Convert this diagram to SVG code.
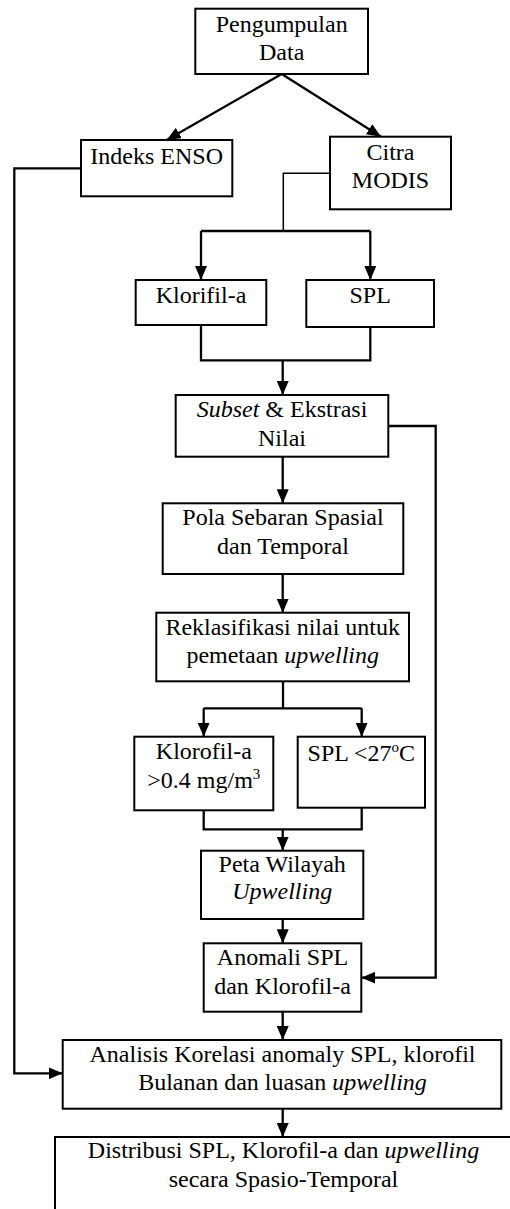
<svg xmlns="http://www.w3.org/2000/svg" width="510" height="1209" viewBox="0 0 510 1209">
<style>
.box{fill:#fff;stroke:#000;stroke-width:2}
text{font-family:'Liberation Serif','Times New Roman',serif;font-size:24px;fill:#000;text-anchor:middle}
.i{font-style:italic}
.c{fill:none;stroke:#000;stroke-width:2.3}
.thin{fill:none;stroke:#000;stroke-width:1.5}
</style>
<defs>
<marker id="ah" markerUnits="userSpaceOnUse" markerWidth="14" markerHeight="12" refX="14" refY="6" orient="auto">
<path d="M0,0 L14,6 L0,12 Z" fill="#000"/>
</marker>
</defs>
<rect width="510" height="1209" fill="#fff"/>
<g id="connectors">
<line class="c" x1="281.7" y1="74" x2="166.7" y2="140" marker-end="url(#ah)"/>
<line class="c" x1="281.7" y1="74" x2="381" y2="136.7" marker-end="url(#ah)"/>
<path class="c" d="M81,168.3 H14.3 V1073.3 H62.7" marker-end="url(#ah)"/>
<path class="thin" d="M330,173.3 H283.3 V231"/>
<path class="c" d="M201,231 H370.3"/>
<path class="c" d="M201,231 V280" marker-end="url(#ah)"/>
<path class="c" d="M370.3,231 V280" marker-end="url(#ah)"/>
<path class="c" d="M201,325 V360.3 H370.3 V327"/>
<path class="c" d="M282.7,360.3 V395" marker-end="url(#ah)"/>
<path class="c" d="M388.3,426 H435.7 V977.7 H361.3" marker-end="url(#ah)"/>
<path class="c" d="M282.7,456.7 V503.3" marker-end="url(#ah)"/>
<path class="c" d="M282.7,574 V612.7" marker-end="url(#ah)"/>
<path class="c" d="M283,681.3 V708.3"/>
<path class="c" d="M203.7,708.3 H361.7"/>
<path class="c" d="M203.7,708.3 V736.7" marker-end="url(#ah)"/>
<path class="c" d="M361.7,708.3 V736.7" marker-end="url(#ah)"/>
<path class="c" d="M203.7,810.3 V829.3 H361.7 V807.7"/>
<path class="c" d="M282.7,829.3 V850.7" marker-end="url(#ah)"/>
<path class="c" d="M282.7,919 V943.3" marker-end="url(#ah)"/>
<path class="c" d="M282.7,1011.7 V1040" marker-end="url(#ah)"/>
<path class="c" d="M282.7,1108.7 V1137" marker-end="url(#ah)"/>
</g>
<g id="pengumpulan">
<rect class="box" x="195.3" y="8.7" width="172.7" height="65.3"/>
<text x="281.7" y="31.7">Pengumpulan</text>
<text x="281.7" y="60">Data</text>
</g>
<g id="indeks-enso">
<rect class="box" x="81" y="140" width="151.3" height="56.3"/>
<text x="156.7" y="164">Indeks ENSO</text>
</g>
<g id="citra-modis">
<rect class="box" x="330" y="136.7" width="121" height="72.6"/>
<text x="390.5" y="160">Citra</text>
<text x="390.5" y="188">MODIS</text>
</g>
<g id="klorifil">
<rect class="box" x="135.7" y="280" width="130.6" height="45"/>
<text x="201" y="303.3">Klorifil-a</text>
</g>
<g id="spl">
<rect class="box" x="306.3" y="280" width="127.7" height="47"/>
<text x="370.2" y="303.3">SPL</text>
</g>
<g id="subset">
<rect class="box" x="175.7" y="395" width="212.6" height="61.7"/>
<text x="282" y="417.3"><tspan class="i">Subset</tspan> &amp; Ekstrasi</text>
<text x="282" y="445.7">Nilai</text>
</g>
<g id="pola">
<rect class="box" x="162.7" y="503.3" width="240.6" height="70.7"/>
<text x="283" y="525">Pola Sebaran Spasial</text>
<text x="283" y="554.3">dan Temporal</text>
</g>
<g id="reklasifikasi">
<rect class="box" x="156.3" y="612.7" width="252.7" height="68.6"/>
<text x="282.7" y="635">Reklasifikasi nilai untuk</text>
<text x="282.7" y="663.3">pemetaan <tspan class="i">upwelling</tspan></text>
</g>
<g id="klorofil-threshold">
<rect class="box" x="134.3" y="736.7" width="139" height="73.6"/>
<text x="203.8" y="759.3">Klorofil-a</text>
<text x="203.8" y="787.7">&gt;0.4 mg/m<tspan font-size="15" dy="-9">3</tspan></text>
</g>
<g id="spl-threshold">
<rect class="box" x="297.7" y="736.7" width="127.3" height="71"/>
<text x="361.3" y="761">SPL &lt;27<tspan font-size="15" dy="-9">o</tspan><tspan dy="9">C</tspan></text>
</g>
<g id="peta">
<rect class="box" x="201" y="850.7" width="162.3" height="68.3"/>
<text x="282.2" y="871.7">Peta Wilayah</text>
<text class="i" x="282.2" y="899">Upwelling</text>
</g>
<g id="anomali">
<rect class="box" x="203.7" y="943.3" width="157.6" height="68.4"/>
<text x="282.5" y="965">Anomali SPL</text>
<text x="282.5" y="994.3">dan Klorofil-a</text>
</g>
<g id="analisis">
<rect class="box" x="62.7" y="1040" width="438.6" height="68.7"/>
<text x="282.5" y="1061.7">Analisis Korelasi anomaly SPL, klorofil</text>
<text x="282.5" y="1090">Bulanan dan luasan <tspan class="i">upwelling</tspan></text>
</g>
<g id="distribusi">
<path class="box" d="M55,1209 V1137 H511" fill="none"/>
<text x="283.5" y="1158.3">Distribusi SPL, Klorofil-a dan <tspan class="i">upwelling</tspan></text>
<text x="283.5" y="1186.7">secara Spasio-Temporal</text>
</g>
</svg>
